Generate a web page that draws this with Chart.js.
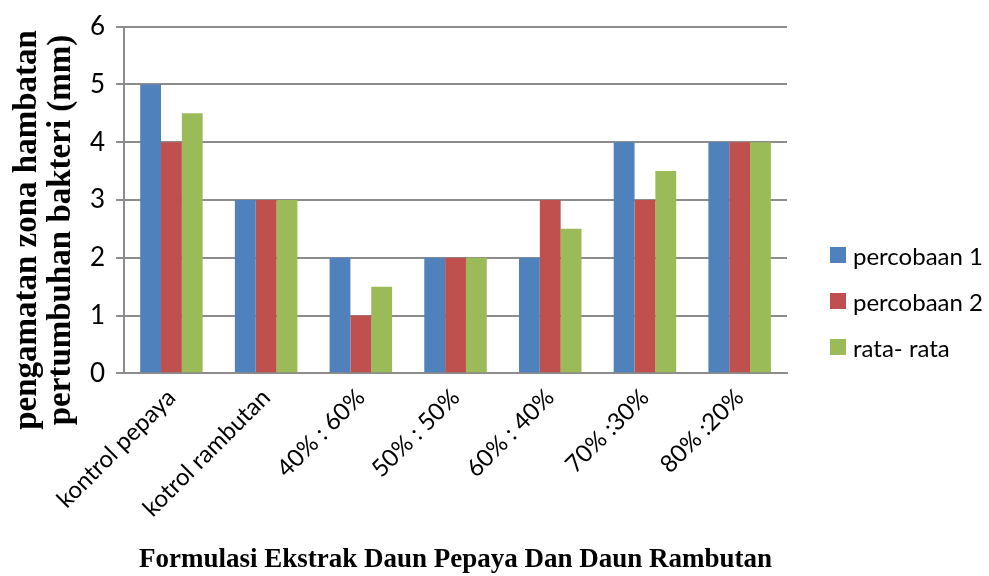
<!DOCTYPE html>
<html>
<head>
<meta charset="utf-8">
<style>
  body { margin: 0; background: #fff; }
  #wrap { position: relative; width: 989px; height: 576px; }
  #legend { position: absolute; left: 830px; top: 232px; font-family: Lato, sans-serif; font-size: 24px; color: #000; }
  #legend div { height: 46px; display: flex; align-items: center; white-space: nowrap; }
  #legend span.box { display: inline-block; width: 16px; height: 16px; margin-right: 7px; }
</style>
</head>
<body>
<div id="wrap">
  <canvas id="zonaChart" width="989" height="576"></canvas>
  <div id="legend"></div>
</div>

<script src="https://cdn.jsdelivr.net/npm/chart.js"></script>
<script>
const categories = ['kontrol pepaya', 'kotrol rambutan', '40% : 60%', '50% : 50%', '60% : 40%', '70% :30%', '80% :20%'];
const percobaan1 = [5, 3, 2, 2, 2, 4, 4];
const percobaan2 = [4, 3, 1, 2, 3, 3, 4];
const rataRata = [4.5, 3, 1.5, 2, 2.5, 3.5, 4];
const seriesNames = ['percobaan 1', 'percobaan 2', 'rata- rata'];
const seriesColors = ['#4F81BD', '#C0504D', '#9BBB59'];
const yTicks = [0, 1, 2, 3, 4, 5, 6];
const yTitleLines = ['pengamatan zona hambatan', 'pertumbuhan bakteri (mm)'];

const gridGray = '#8c8c8c';

// y axis title drawn by hand so it can sit a bit lower than the plot centre, like the original
const yTitlePlugin = {
  id: 'yTitle',
  afterDraw(chart) {
    const ctx = chart.ctx;
    const area = chart.chartArea;
    const cy = (area.top + area.bottom) / 2 + 30;
    ctx.save();
    ctx.fillStyle = '#000';
    ctx.font = 'bold 33px "Liberation Serif"';
    ctx.textAlign = 'center';
    ctx.textBaseline = 'middle';
    yTitleLines.forEach((line, i) => {
      ctx.save();
      ctx.translate(27 + i * 34, cy);
      ctx.rotate(-Math.PI / 2);
      ctx.fillText(line, 0, 0);
      ctx.restore();
    });
    ctx.restore();
  }
};

const chart = new Chart(document.getElementById('zonaChart').getContext('2d'), {
  type: 'bar',
  data: {
    labels: categories,
    datasets: [
      { label: seriesNames[0], data: percobaan1, backgroundColor: seriesColors[0] },
      { label: seriesNames[1], data: percobaan2, backgroundColor: seriesColors[1] },
      { label: seriesNames[2], data: rataRata, backgroundColor: seriesColors[2] }
    ]
  },
  plugins: [yTitlePlugin],
  options: {
    responsive: false,
    animation: false,
    categoryPercentage: 0.66,
    barPercentage: 1,
    layout: { padding: { left: 79, right: 202, top: 12, bottom: 0 } },
    plugins: {
      tooltip: { enabled: false },
      legend: { display: false }
    },
    scales: {
      x: {
        grid: { display: false, drawTicks: false },
        border: { color: gridGray, width: 2 },
        ticks: {
          color: '#000',
          minRotation: 45,
          maxRotation: 45,
          padding: 10,
          font: { family: 'Lato', size: 24 }
        },
        title: {
          display: true,
          text: 'Formulasi Ekstrak Daun Pepaya Dan Daun Rambutan',
          color: '#000',
          padding: { top: 11, bottom: 0 },
          font: { family: 'Liberation Serif', size: 27, weight: 'bold' }
        }
      },
      y: {
        min: 0,
        max: 6,
        afterBuildTicks: axis => { axis.ticks = yTicks.map(v => ({ value: v })); },
        grid: { color: gridGray, lineWidth: 2, tickLength: 8 },
        border: { color: gridGray, width: 2 },
        ticks: {
          color: '#000',
          padding: 11,
          font: { family: 'Lato', size: 26 }
        }
      }
    }
  }
});

document.getElementById('legend').innerHTML = chart.data.datasets.map(ds =>
  `<div><span class="box" style="background:${ds.backgroundColor}"></span>${ds.label}</div>`
).join('');
</script>
</body>
</html>
